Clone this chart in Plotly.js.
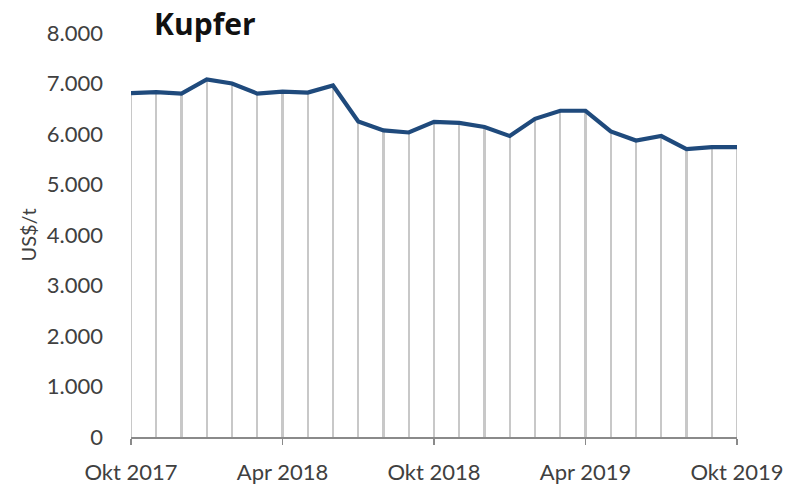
<!DOCTYPE html>
<html>
<head>
<meta charset="utf-8">
<script src="https://cdn.plot.ly/plotly-3.0.1.min.js"></script>
<style>html,body{margin:0;padding:0;background:#fff;}#chart{width:789px;height:486px;}</style>
</head>
<body>
<div id="chart"></div>
<script>
const months = ['Okt 2017','Nov 2017','Dez 2017','Jan 2018','Feb 2018','Mär 2018','Apr 2018','Mai 2018','Jun 2018','Jul 2018','Aug 2018','Sep 2018','Okt 2018','Nov 2018','Dez 2018','Jan 2019','Feb 2019','Mär 2019','Apr 2019','Mai 2019','Jun 2019','Jul 2019','Aug 2019','Sep 2019','Okt 2019'];
const copperPrice = [6810,6830,6800,7080,7000,6800,6840,6820,6960,6250,6070,6030,6240,6220,6140,5960,6300,6460,6460,6050,5870,5960,5700,5740,5740];
const xTickLabels = ['Okt 2017','Apr 2018','Okt 2018','Apr 2019','Okt 2019'];
const yTicks = [0,1000,2000,3000,4000,5000,6000,7000,8000];

const font = 'Lato, "Open Sans", sans-serif';

const traces = [
  {
    type: 'bar',
    x: months,
    y: copperPrice,
    width: 0.08,
    cliponaxis: false,
    marker: {color: '#c8c8c8', line: {width: 0}},
    hoverinfo: 'skip',
    showlegend: false
  },
  {
    type: 'scatter',
    mode: 'lines',
    x: months,
    y: copperPrice,
    cliponaxis: false,
    line: {color: '#1f4a7c', width: 4.2, shape: 'linear'},
    showlegend: false
  }
];

const layout = {
  width: 789,
  height: 486,
  margin: {l: 131, r: 52, t: 33, b: 49},
  paper_bgcolor: '#ffffff',
  plot_bgcolor: '#ffffff',
  separators: ',.',
  font: {family: font, color: '#404040'},
  title: {
    text: '<b>Kupfer</b>',
    font: {family: '"Open Sans", Lato, sans-serif', size: 30, color: '#111111'},
    xref: 'paper', x: 0.038, xanchor: 'left',
    yref: 'container', y: 0.95, yanchor: 'middle'
  },
  xaxis: {
    type: 'category',
    range: [0, 24],
    tickmode: 'array',
    tickvals: xTickLabels,
    ticktext: xTickLabels,
    ticks: 'outside',
    ticklen: 6,
    tickwidth: 1.5,
    tickcolor: '#8a8a8a',
    showline: true,
    linecolor: '#8a8a8a',
    linewidth: 1.5,
    showgrid: false,
    zeroline: false,
    tickangle: 0,
    ticklabelstandoff: 9,
    tickfont: {family: font, size: 22, color: '#404040'}
  },
  yaxis: {
    range: [0, 8000],
    tickmode: 'array',
    tickvals: yTicks,
    tickformat: ',d',
    ticks: '',
    showline: false,
    showgrid: false,
    zeroline: false,
    ticklabelstandoff: 27,
    tickfont: {family: font, size: 22, color: '#404040'},
    title: {text: 'US$/t', font: {family: font, size: 20, color: '#404040'}, standoff: 4}
  },
  bargap: 0
};

Plotly.newPlot('chart', traces, layout, {displayModeBar: false, staticPlot: true});
</script>
</body>
</html>
